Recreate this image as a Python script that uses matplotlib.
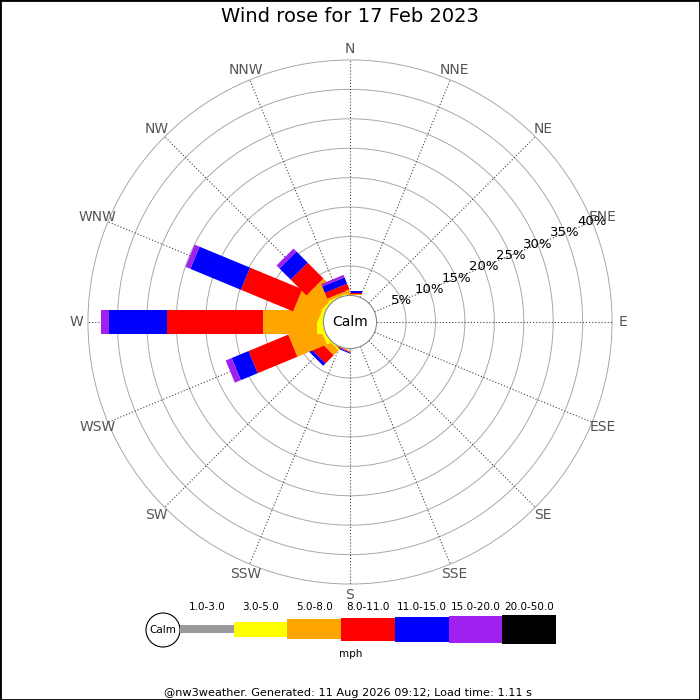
import numpy as np
import matplotlib
matplotlib.use('Agg')
import matplotlib.pyplot as plt
from matplotlib.patches import Polygon, Circle, Rectangle

# ---------------- data ----------------
directions = ['N', 'NNE', 'NE', 'ENE', 'E', 'ESE', 'SE', 'SSE',
              'S', 'SSW', 'SW', 'WSW', 'W', 'WNW', 'NW', 'NNW']
speed_bins = ['1.0-3.0', '3.0-5.0', '5.0-8.0', '8.0-11.0',
              '11.0-15.0', '15.0-20.0', '20.0-50.0']
bin_colors = ['#999999', '#ffff00', '#ffa500', '#ff0000',
              '#0000ff', '#a020f0', '#000000']

# percent of time per direction for each speed bin (mph)
pct_1_3   = [0, 0, 0, 0, 0, 0, 0, 0, 0, 0,    0,    0,   0,    0,   0,   0]
pct_3_5   = [0.07, 0, 0, 0, 0, 0, 0, 0, 0, 0.05, 0.30, 0.6, 1.1,  0.6, 0.4, 0.20]
pct_5_8   = [0.12, 0, 0, 0, 0, 0, 0, 0, 0, 0.07, 1.14, 5.4, 9.1,  4.5, 3.5, 0.45]
pct_8_11  = [0.27, 0, 0, 0, 0, 0, 0, 0, 0, 0.16, 1.96, 7.3, 16.3, 9.6, 3.8, 1.05]
pct_11_15 = [0.29, 0, 0, 0, 0, 0, 0, 0, 0, 0.17, 0.57, 3.1, 10.0, 9.3, 2.7, 1.15]
pct_15_20 = [0, 0, 0, 0, 0, 0, 0, 0, 0, 0,    0,    1.1, 1.3,  0.9, 0.7, 0.45]
pct_20_50 = [0, 0, 0, 0, 0, 0, 0, 0, 0, 0,    0,    0,   0,    0,   0,   0]
series = [pct_1_3, pct_3_5, pct_5_8, pct_8_11, pct_11_15, pct_15_20, pct_20_50]

ring_pcts = [5, 10, 15, 20, 25, 30, 35, 40]
title = 'Wind rose for 17 Feb 2023'
footer = '@nw3weather. Generated: 11 Aug 2026 09:12; Load time: 1.11 s'

# ---------------- figure ----------------
fig = plt.figure(figsize=(7, 7), dpi=100)
fig.patch.set_facecolor('white')

PX = 5.886           # pixels per percent
R0 = 26.6 / PX       # calm circle radius in percent units
HW = 12.0 / PX       # half width of bars

ax = fig.add_axes([0, 0, 1, 1])
ax.set_xlim(-350 / PX, 350 / PX)
ax.set_ylim(-378 / PX, 322 / PX)
ax.set_aspect('equal')
ax.axis('off')

rmax = R0 + ring_pcts[-1]

# rings
for p in ring_pcts:
    ax.add_patch(Circle((0, 0), R0 + p, fill=False, edgecolor='#a8a8a8',
                        lw=0.7, zorder=1))

# spokes
for i, d in enumerate(directions):
    th = np.deg2rad(22.5 * i)
    ux, uy = np.sin(th), np.cos(th)
    ax.plot([R0 * ux, rmax * ux], [R0 * uy, rmax * uy], color='#444444',
            lw=0.8, linestyle=(0, (1, 1.8)), zorder=2)
    ax.text((rmax + 1.9) * ux, (rmax + 1.9) * uy, d, ha='center', va='center',
            fontsize=10, color='#555555', zorder=6)

# bars (each direction stacked, drawn in direction order)
for i, d in enumerate(directions):
    th = np.deg2rad(22.5 * i)
    u = np.array([np.sin(th), np.cos(th)])
    v = np.array([np.cos(th), -np.sin(th)])
    cum = 0.0
    for s, col in zip(series, bin_colors):
        val = s[i]
        if val <= 0:
            continue
        a = R0 + cum
        b = R0 + cum + val
        pts = [a * u + HW * v, b * u + HW * v, b * u - HW * v, a * u - HW * v]
        ax.add_patch(Polygon(pts, closed=True, facecolor=col, edgecolor='none',
                             zorder=3))
        cum += val

# calm circle
ax.add_patch(Circle((0, 0), R0, facecolor='white', edgecolor='#888888',
                    lw=0.8, zorder=4))
ax.text(0, 0, 'Calm', ha='center', va='center', fontsize=10, zorder=5)

# radial labels along ENE
thl = np.deg2rad(67.5)
for p in ring_pcts:
    r = R0 + p
    ax.text(r * np.sin(thl), r * np.cos(thl), f'{p}%', ha='center',
            va='center', fontsize=9.5, color='black', zorder=6)

# ---------------- title / legend / footer (pixel overlay) ----------------
lx = fig.add_axes([0, 0, 1, 1], zorder=10)
lx.set_xlim(0, 700)
lx.set_ylim(700, 0)
lx.axis('off')
lx.patch.set_alpha(0)

lx.text(350, 17, title, ha='center', va='center', fontsize=14)

lx.add_patch(Circle((163, 630), 17, facecolor='white', edgecolor='black',
                    lw=0.8))
lx.text(163, 630, 'Calm', ha='center', va='center', fontsize=7.5)

box_x0 = 180.0
box_w = 53.7
box_h = [7.7, 15, 20.3, 23, 25, 27, 29]
yc = 629.2
for k, (lab, col) in enumerate(zip(speed_bins, bin_colors)):
    x0 = box_x0 + k * box_w
    lx.add_patch(Rectangle((x0, yc - box_h[k] / 2), box_w, box_h[k],
                           facecolor=col, edgecolor='none'))
    lx.text(x0 + box_w / 2, 607.5, lab, ha='center', va='center', fontsize=7.5)
lx.text(351, 654, 'mph', ha='center', va='center', fontsize=7.5)

lx.text(348, 692.5, footer, ha='center', va='center', fontsize=8.15)

fig.patches.append(Rectangle((0, 0), 1, 1, transform=fig.transFigure,
                             fill=False, edgecolor='black', lw=2))

fig.savefig('out.png', dpi=100, facecolor='white')
